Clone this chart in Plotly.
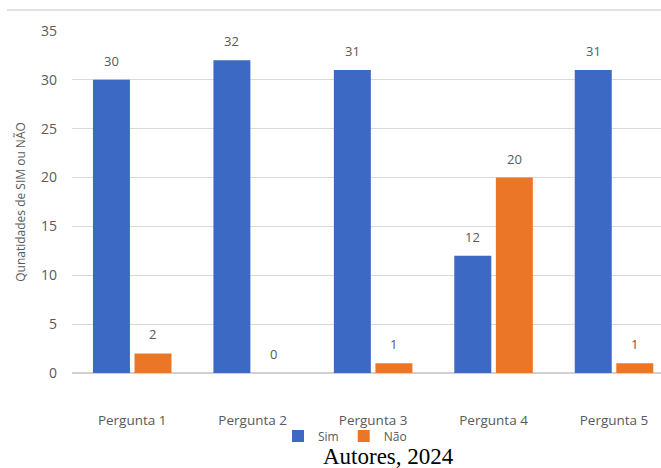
import plotly.graph_objects as go

categories = ["Pergunta 1", "Pergunta 2", "Pergunta 3", "Pergunta 4", "Pergunta 5"]
sim = [30, 32, 31, 12, 31]
nao = [2, 0, 1, 20, 1]
y_ticks = [0, 5, 10, 15, 20, 25, 30, 35]

W, H = 661, 468
L, R, T, B = 72, 0, 31, 95
FONT = "Open Sans, Lato, sans-serif"
GREY = "#595959"

fig = go.Figure()
fig.add_trace(go.Bar(name="Sim", x=categories, y=sim, marker=dict(color="#3b69c3", line=dict(width=0))))
fig.add_trace(go.Bar(name="Não", x=categories, y=nao, marker=dict(color="#ec7628", line=dict(width=0))))

lab_font = dict(family=FONT, size=13, color=GREY)
ann = []
off = 0.172
for i, c in enumerate(categories):
    ann.append(dict(x=i - off, y=sim[i], xref="x", yref="y", text=str(sim[i]), showarrow=False,
                    yshift=19, font=lab_font))
    ann.append(dict(x=i + off, y=nao[i], xref="x", yref="y", text=str(nao[i]), showarrow=False,
                    yshift=19, font=lab_font))

pw = W - L - R
ph = H - T - B
ann.append(dict(x=(388 - L) / pw, y=-(456 - (H - B)) / ph, xref="paper", yref="paper",
                xanchor="center", yanchor="middle",
                text="Autores, 2024", showarrow=False,
                font=dict(family="Liberation Serif, Times New Roman, serif", size=23, color="black")))

fig.update_layout(
    width=W, height=H,
    margin=dict(l=L, r=R, t=T, b=B, autoexpand=False),
    paper_bgcolor="white", plot_bgcolor="white",
    barmode="group", bargap=0.31, bargroupgap=0.11,
    font=lab_font,
    showlegend=True,
    legend=dict(orientation="h", xref="container", yref="container", x=345 / W, xanchor="center",
                y=1 - 436 / H, yanchor="middle", bgcolor="rgba(0,0,0,0)",
                font=dict(family=FONT, size=12, color=GREY),
                itemwidth=30, tracegroupgap=0),
    annotations=ann,
    shapes=[dict(type="line", xref="paper", yref="paper", x0=(7 - L) / pw, x1=1,
                 y0=1 + (T - 10) / ph, y1=1 + (T - 10) / ph,
                 line=dict(color="#d9d9d9", width=1.5))],
)
fig.update_xaxes(type="category", range=[-0.5, 4.39], showgrid=False, showline=False, ticks="",
                 ticklabelstandoff=37, tickfont=dict(family=FONT, size=13.5, color=GREY))
fig.update_yaxes(range=[0, 35], tickvals=y_ticks, showgrid=True, gridcolor="#d9d9d9", gridwidth=1,
                 zeroline=True, zerolinecolor="#d0d0d0", zerolinewidth=1.5,
                 ticklabelstandoff=14, tickfont=dict(family=FONT, size=14, color=GREY),
                 title=dict(text="Qunatidades de SIM ou NÃO", standoff=12,
                            font=dict(family=FONT, size=12, color=GREY)))

fig.write_html("out.html")
